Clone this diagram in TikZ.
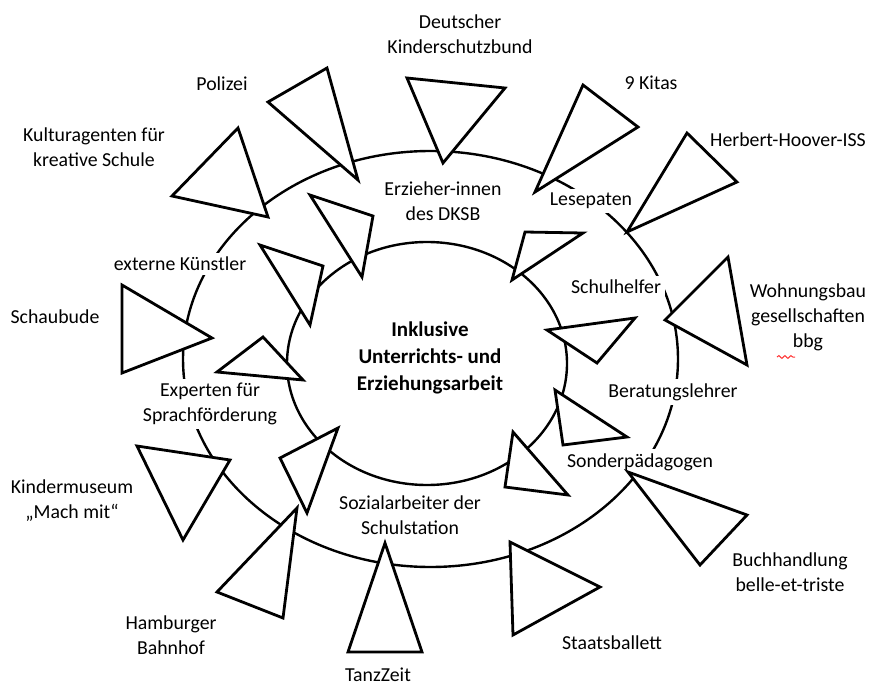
\documentclass[tikz,border=0pt]{standalone}
\usepackage{fontspec}
\setmainfont{Carlito}
\usetikzlibrary{decorations.pathmorphing}

\begin{document}
\begin{tikzpicture}[x=0.5pt, y=-0.5pt,
    ring/.style={line width=1.2pt},
    spitze/.style={line width=1.4pt, fill=white, line join=miter},
    partner/.style={fill=white, inner sep=2pt, align=center,
        font=\fontsize{9.9}{12.5}\selectfont},
    kern/.style={fill=white, inner sep=2pt, align=center,
        font=\fontsize{10.5}{13.5}\selectfont\bfseries}]
\useasboundingbox (0, 0) rectangle (869, 685);

\draw[ring] (430.5, 359) ellipse (247.5 and 208);
\draw[ring] (427, 363.5) ellipse (140 and 121.5);

\node[partner] (dksb) at (460, 34) {Deutscher\\Kinderschutzbund};
\node[partner] (polizei) at (222, 84) {Polizei};
\node[partner] (kitas) at (651, 83) {9 Kitas};
\node[partner] (hoover) at (788, 140) {Herbert-Hoover-ISS};
\node[partner] (kultur) at (94, 147) {Kulturagenten für\\kreative Schule};
\node[partner] (erzieher) at (443, 201) {Erzieher-innen\\des DKSB};
\node[partner] (lesepaten) at (591, 201) {Lesepaten};
\node[partner] (kuenstler) at (180, 264) {externe Künstler};
\node[partner] (schulhelfer) at (616, 287) {Schulhelfer};
\node[partner] (schaubude) at (55, 317) {Schaubude};
\node[partner] (wohnbau) at (808, 317) {Wohnungsbau\\gesellschaften\\bbg};
\node[kern] (zentrum) at (430, 358) {Inklusive\\Unterrichts- und\\Erziehungsarbeit};
\node[partner] (experten) at (210, 404) {Experten für\\Sprachförderung};
\node[partner] (berater) at (673, 392) {Beratungslehrer};
\node[partner] (sonder) at (640, 462) {Sonderpädagogen};
\node[partner] (museum) at (72, 501) {Kindermuseum\\„Mach mit“};
\node[partner] (sozial) at (410, 515) {Sozialarbeiter der\\Schulstation};
\node[partner] (buch) at (790, 572) {Buchhandlung\\belle-et-triste};
\node[partner] (hamburg) at (171, 635) {Hamburger\\Bahnhof};
\node[partner] (ballett) at (612, 643) {Staatsballett};
\node[partner] (tanz) at (378, 675) {TanzZeit};

\draw[red!80, line width=0.5pt, decorate,
    decoration={snake, amplitude=0.7pt, segment length=3pt}]
    (777, 357) -- (795, 357);

\draw[spitze] (268, 102) -- (327, 68) -- (358, 180) -- cycle;
\draw[spitze] (172, 196) -- (238, 128) -- (268, 217) -- cycle;
\draw[spitze] (310, 195) -- (373, 216) -- (362, 277) -- cycle;
\draw[spitze] (260, 245) -- (323, 266) -- (310, 325) -- cycle;
\draw[spitze] (122, 285) -- (212, 338) -- (122, 373) -- cycle;
\draw[spitze] (263, 337) -- (217, 372) -- (303, 380) -- cycle;
\draw[spitze] (407, 78) -- (505, 88) -- (443, 163) -- cycle;
\draw[spitze] (583, 85) -- (638, 127) -- (535, 192) -- cycle;
\draw[spitze] (687, 133) -- (737, 182) -- (627, 232) -- cycle;
\draw[spitze] (525, 232) -- (583, 233) -- (512, 280) -- cycle;
\draw[spitze] (728, 257) -- (665, 320) -- (747, 365) -- cycle;
\draw[spitze] (547, 330) -- (635, 318) -- (597, 363) -- cycle;
\draw[spitze] (555, 390) -- (627, 437) -- (563, 445) -- cycle;
\draw[spitze] (513, 432) -- (568, 495) -- (505, 487) -- cycle;
\draw[spitze] (628, 472) -- (747, 515) -- (700, 565) -- cycle;
\draw[spitze] (510, 542) -- (600, 587) -- (513, 635) -- cycle;
\draw[spitze] (137, 446) -- (230, 460) -- (183, 540) -- cycle;
\draw[spitze] (338, 428) -- (280, 458) -- (307, 513) -- cycle;
\draw[spitze] (297, 508) -- (283, 618) -- (217, 592) -- cycle;
\draw[spitze] (385, 543) -- (422, 652) -- (348, 652) -- cycle;

\end{tikzpicture}
\end{document}
